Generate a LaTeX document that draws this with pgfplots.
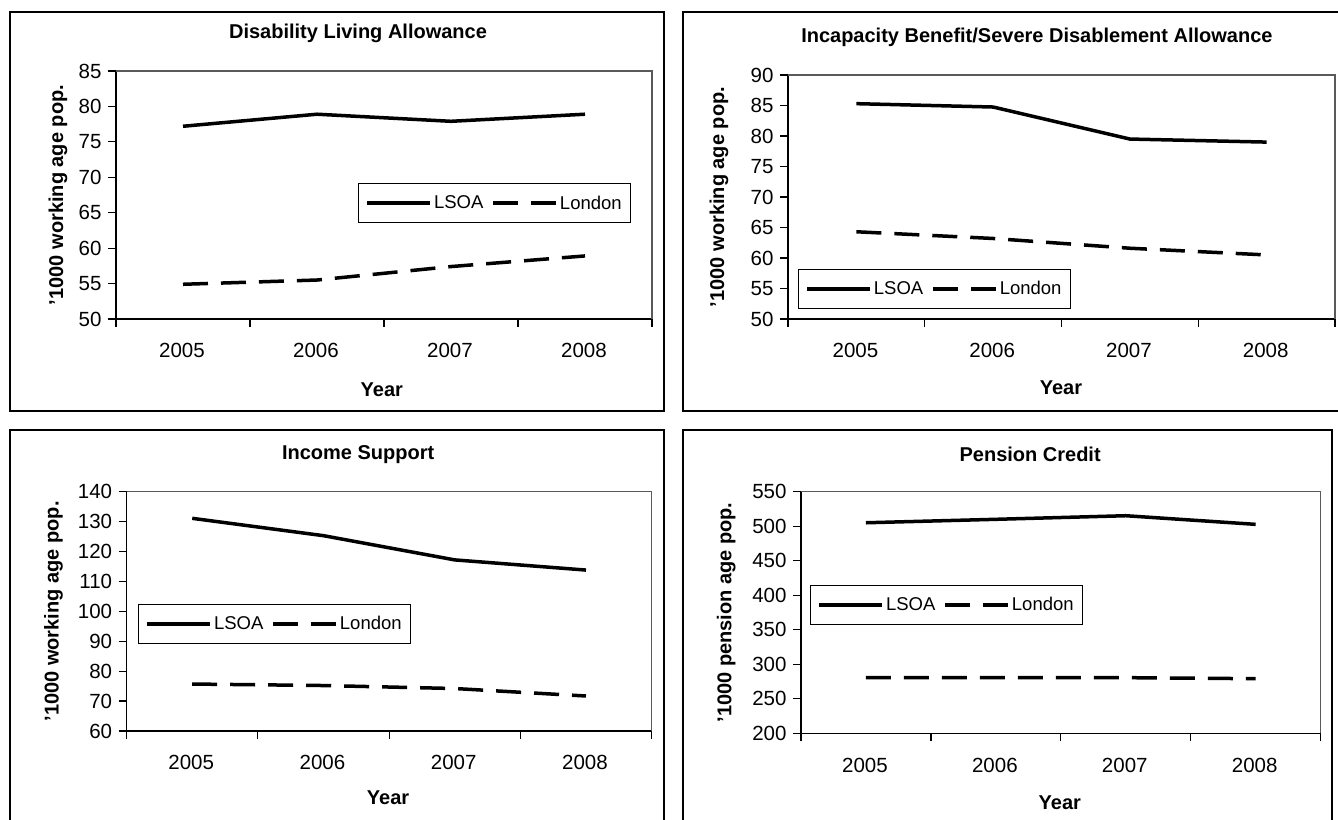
\documentclass[border=0pt]{standalone}
\usepackage{fontspec}
\setmainfont{Liberation Sans}
\usepackage{pgfplots}
\pgfplotsset{compat=1.18}
\newcommand\fs{\fontsize{18.5}{22}\selectfont}
\newcommand\tfs{\fontsize{20.5}{24}\selectfont}
\newcommand\bfs{\fontsize{20}{24}\selectfont}
\pgfplotsset{
  panel/.style={
    scale only axis, anchor=south west, clip=false,
    xmin=-0.5, xmax=3.5,
    xtick={-0.5,0.5,1.5,2.5,3.5},
    xticklabels={2005,2006,2007,2008,{}},
    major tick length=8pt,
    tick align=outside, tick pos=left,
    axis line style={black, line width=1.2pt},
    every tick/.style={black, line width=1.2pt},
    /pgf/number format/assume math mode=true,
    font=\fs,
    ticklabel style={font=\tfs},
    yticklabel style={xshift=-3pt},
    ylabel style={font=\bfseries\bfs, anchor=center},
    xlabel style={font=\bfseries\bfs, anchor=center},
    title style={font=\bfseries\bfs, anchor=center, yshift=0pt},
    legend columns=2,
    legend style={anchor=north west, draw=black, line width=1.2pt, fill=white, font=\fs,
      inner xsep=7pt, inner ysep=10pt,
      /tikz/every even column/.append style={column sep=6pt}},
    legend image code/.code={\draw[##1] (0pt,0pt) -- (63pt,0pt);},
    after end axis/.code={\draw[black!65, line width=1.2pt] (rel axis cs:0,1) -- (rel axis cs:1,1) -- (rel axis cs:1,0);},
  },
  lsoa/.style={black, line width=3.5pt, solid},
  lon/.style={black, line width=3.5pt, dash pattern=on 25pt off 13pt},
}
\begin{document}
\begin{tikzpicture}
% outer chart boxes
\draw[black, line width=2pt] (10pt,408pt) rectangle (664pt,807pt);
\draw[black, line width=2pt] (683pt,408pt) rectangle (1345pt,807pt);
\draw[black, line width=2pt] (10pt,-5pt) rectangle (664pt,389pt);
\draw[black, line width=2pt] (683pt,-5pt) rectangle (1332pt,389pt);

% Panel 1
\begin{axis}[panel, at={(116pt,500pt)}, width=536pt, height=248pt,
  ymin=50, ymax=85, ytick={50,55,...,85},
  xticklabel style={anchor=north, xshift=66pt, yshift=-13pt},
  title={Disability Living Allowance},
  title style={at={(axis description cs:0.4515,1.129)}},
  xlabel={Year}, xlabel style={at={(axis description cs:0.496,-0.286)}},
  ylabel={'1000 working age pop.}, ylabel style={at={(axis description cs:-0.108,0.5)}},
  legend style={at={(0.4515,0.548)}}]
\addplot[lsoa] coordinates {(0,77.2) (1,78.9) (2,77.9) (3,78.9)};
\addlegendentry{LSOA}
\addplot[lon] coordinates {(0,54.9) (1,55.5) (2,57.4) (3,58.9)};
\addlegendentry{London}
\end{axis}

% Panel 2
\begin{axis}[panel, at={(788pt,500pt)}, width=547pt, height=244pt,
  ymin=50, ymax=90, ytick={50,55,...,90},
  xticklabel style={anchor=north, xshift=67.4pt, yshift=-13pt},
  title={Incapacity Benefit/Severe Disablement Allowance},
  title style={at={(axis description cs:0.455,1.131)}},
  xlabel={Year}, xlabel style={at={(axis description cs:0.499,-0.283)}},
  ylabel={'1000 working age pop.}, ylabel style={at={(axis description cs:-0.126,0.5)}},
  legend style={at={(0.018,0.205)}}]
\addplot[lsoa] coordinates {(0,85.3) (1,84.75) (2,79.5) (3,79.0)};
\addlegendentry{LSOA}
\addplot[lon] coordinates {(0,64.3) (1,63.2) (2,61.6) (3,60.5)};
\addlegendentry{London}
\end{axis}

% Panel 3
\begin{axis}[panel, at={(126.6pt,88pt)}, width=525pt, height=239.3pt,
  ymin=60, ymax=140, ytick={60,70,...,140},
  xticklabel style={anchor=north, xshift=64.6pt, yshift=-13pt},
  title={Income Support},
  title style={at={(axis description cs:0.441,1.132)}},
  xlabel={Year}, xlabel style={at={(axis description cs:0.498,-0.28)}},
  ylabel={'1000 working age pop.}, ylabel style={at={(axis description cs:-0.139,0.5)}},
  legend style={at={(0.0217,0.531)}}]
\addplot[lsoa] coordinates {(0,131.1) (1,125.3) (2,117.2) (3,113.8)};
\addlegendentry{LSOA}
\addplot[lon] coordinates {(0,75.7) (1,75.2) (2,74.2) (3,71.7)};
\addlegendentry{London}
\end{axis}

% Panel 4
\begin{axis}[panel, at={(801pt,85.7pt)}, width=519.6pt, height=241.6pt,
  ymin=200, ymax=550, ytick={200,250,...,550},
  xticklabel style={anchor=north, xshift=63.95pt, yshift=-13pt},
  title={Pension Credit},
  title style={at={(axis description cs:0.441,1.131)}},
  xlabel={Year}, xlabel style={at={(axis description cs:0.498,-0.288)}},
  ylabel={'1000 pension age pop.}, ylabel style={at={(axis description cs:-0.144,0.5)}},
  legend style={at={(0.0173,0.614)}}]
\addplot[lsoa] coordinates {(0,505) (1,510) (2,515.2) (3,502.7)};
\addlegendentry{LSOA}
\addplot[lon] coordinates {(0,280.6) (1,280.6) (2,280.6) (3,279.1)};
\addlegendentry{London}
\end{axis}

\pgfresetboundingbox
\path[use as bounding box] (0pt,0pt) rectangle (1338pt,819pt);
\end{tikzpicture}
\end{document}
